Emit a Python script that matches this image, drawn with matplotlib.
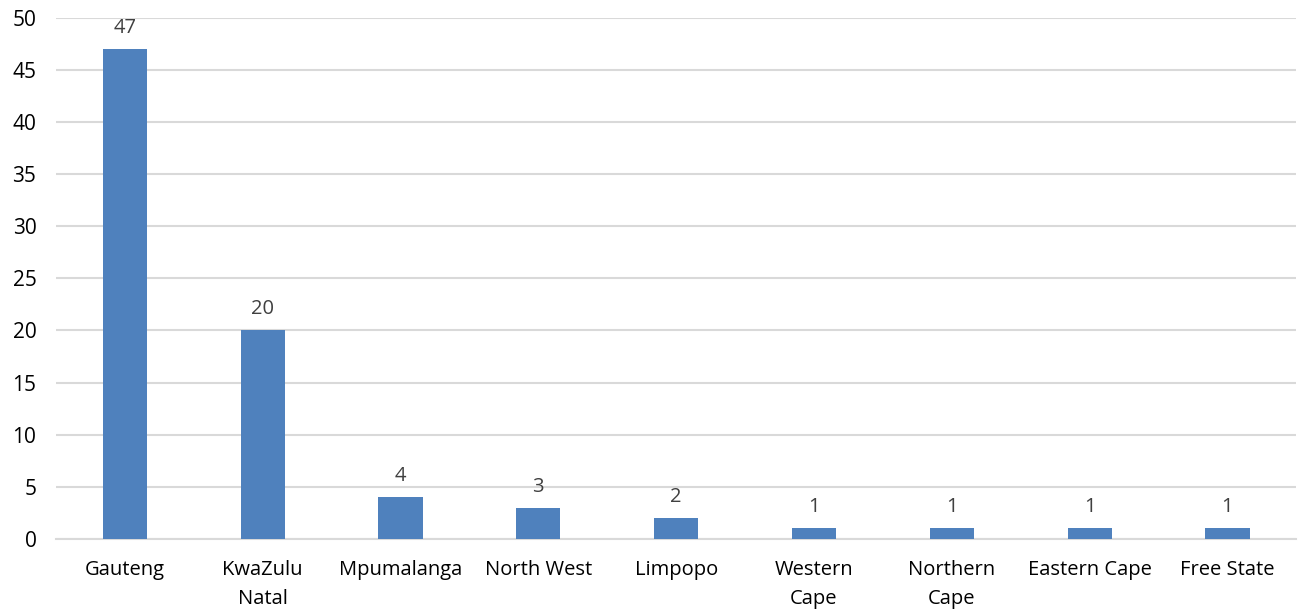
import matplotlib.pyplot as plt

provinces = ["Gauteng", "KwaZulu\nNatal", "Mpumalanga", "North West", "Limpopo",
             "Western\nCape", "Northern\nCape", "Eastern Cape", "Free State"]
counts = [47, 20, 4, 3, 2, 1, 1, 1, 1]
yticks = [0, 5, 10, 15, 20, 25, 30, 35, 40, 45, 50]

plt.rcParams["font.family"] = ["Open Sans", "DejaVu Sans"]

fig = plt.figure(figsize=(12.99, 6.11), dpi=100)
ax = fig.add_axes([0.043, 0.118, 0.955, 0.853])

x = range(len(provinces))
bars = ax.bar(x, counts, width=0.32, color="#4F81BD", zorder=3)
ax.bar_label(bars, padding=8, fontsize=14.5, color="#404040")

ax.set_xlim(-0.5, len(provinces) - 0.5)
ax.set_ylim(0, 50)
ax.set_yticks(yticks)
ax.set_xticks(list(x))
ax.set_xticklabels(provinces, fontsize=14.5, linespacing=1.65)
ax.tick_params(axis="y", labelsize=15, length=0, pad=14)
ax.tick_params(axis="x", length=0, pad=15)

ax.grid(axis="y", color="#D9D9D9", linewidth=1.5, zorder=0)
for side in ["top", "right", "left"]:
    ax.spines[side].set_visible(False)
ax.spines["bottom"].set_color("#D9D9D9")
ax.spines["bottom"].set_linewidth(1.5)

fig.savefig("out.png", dpi=100)
